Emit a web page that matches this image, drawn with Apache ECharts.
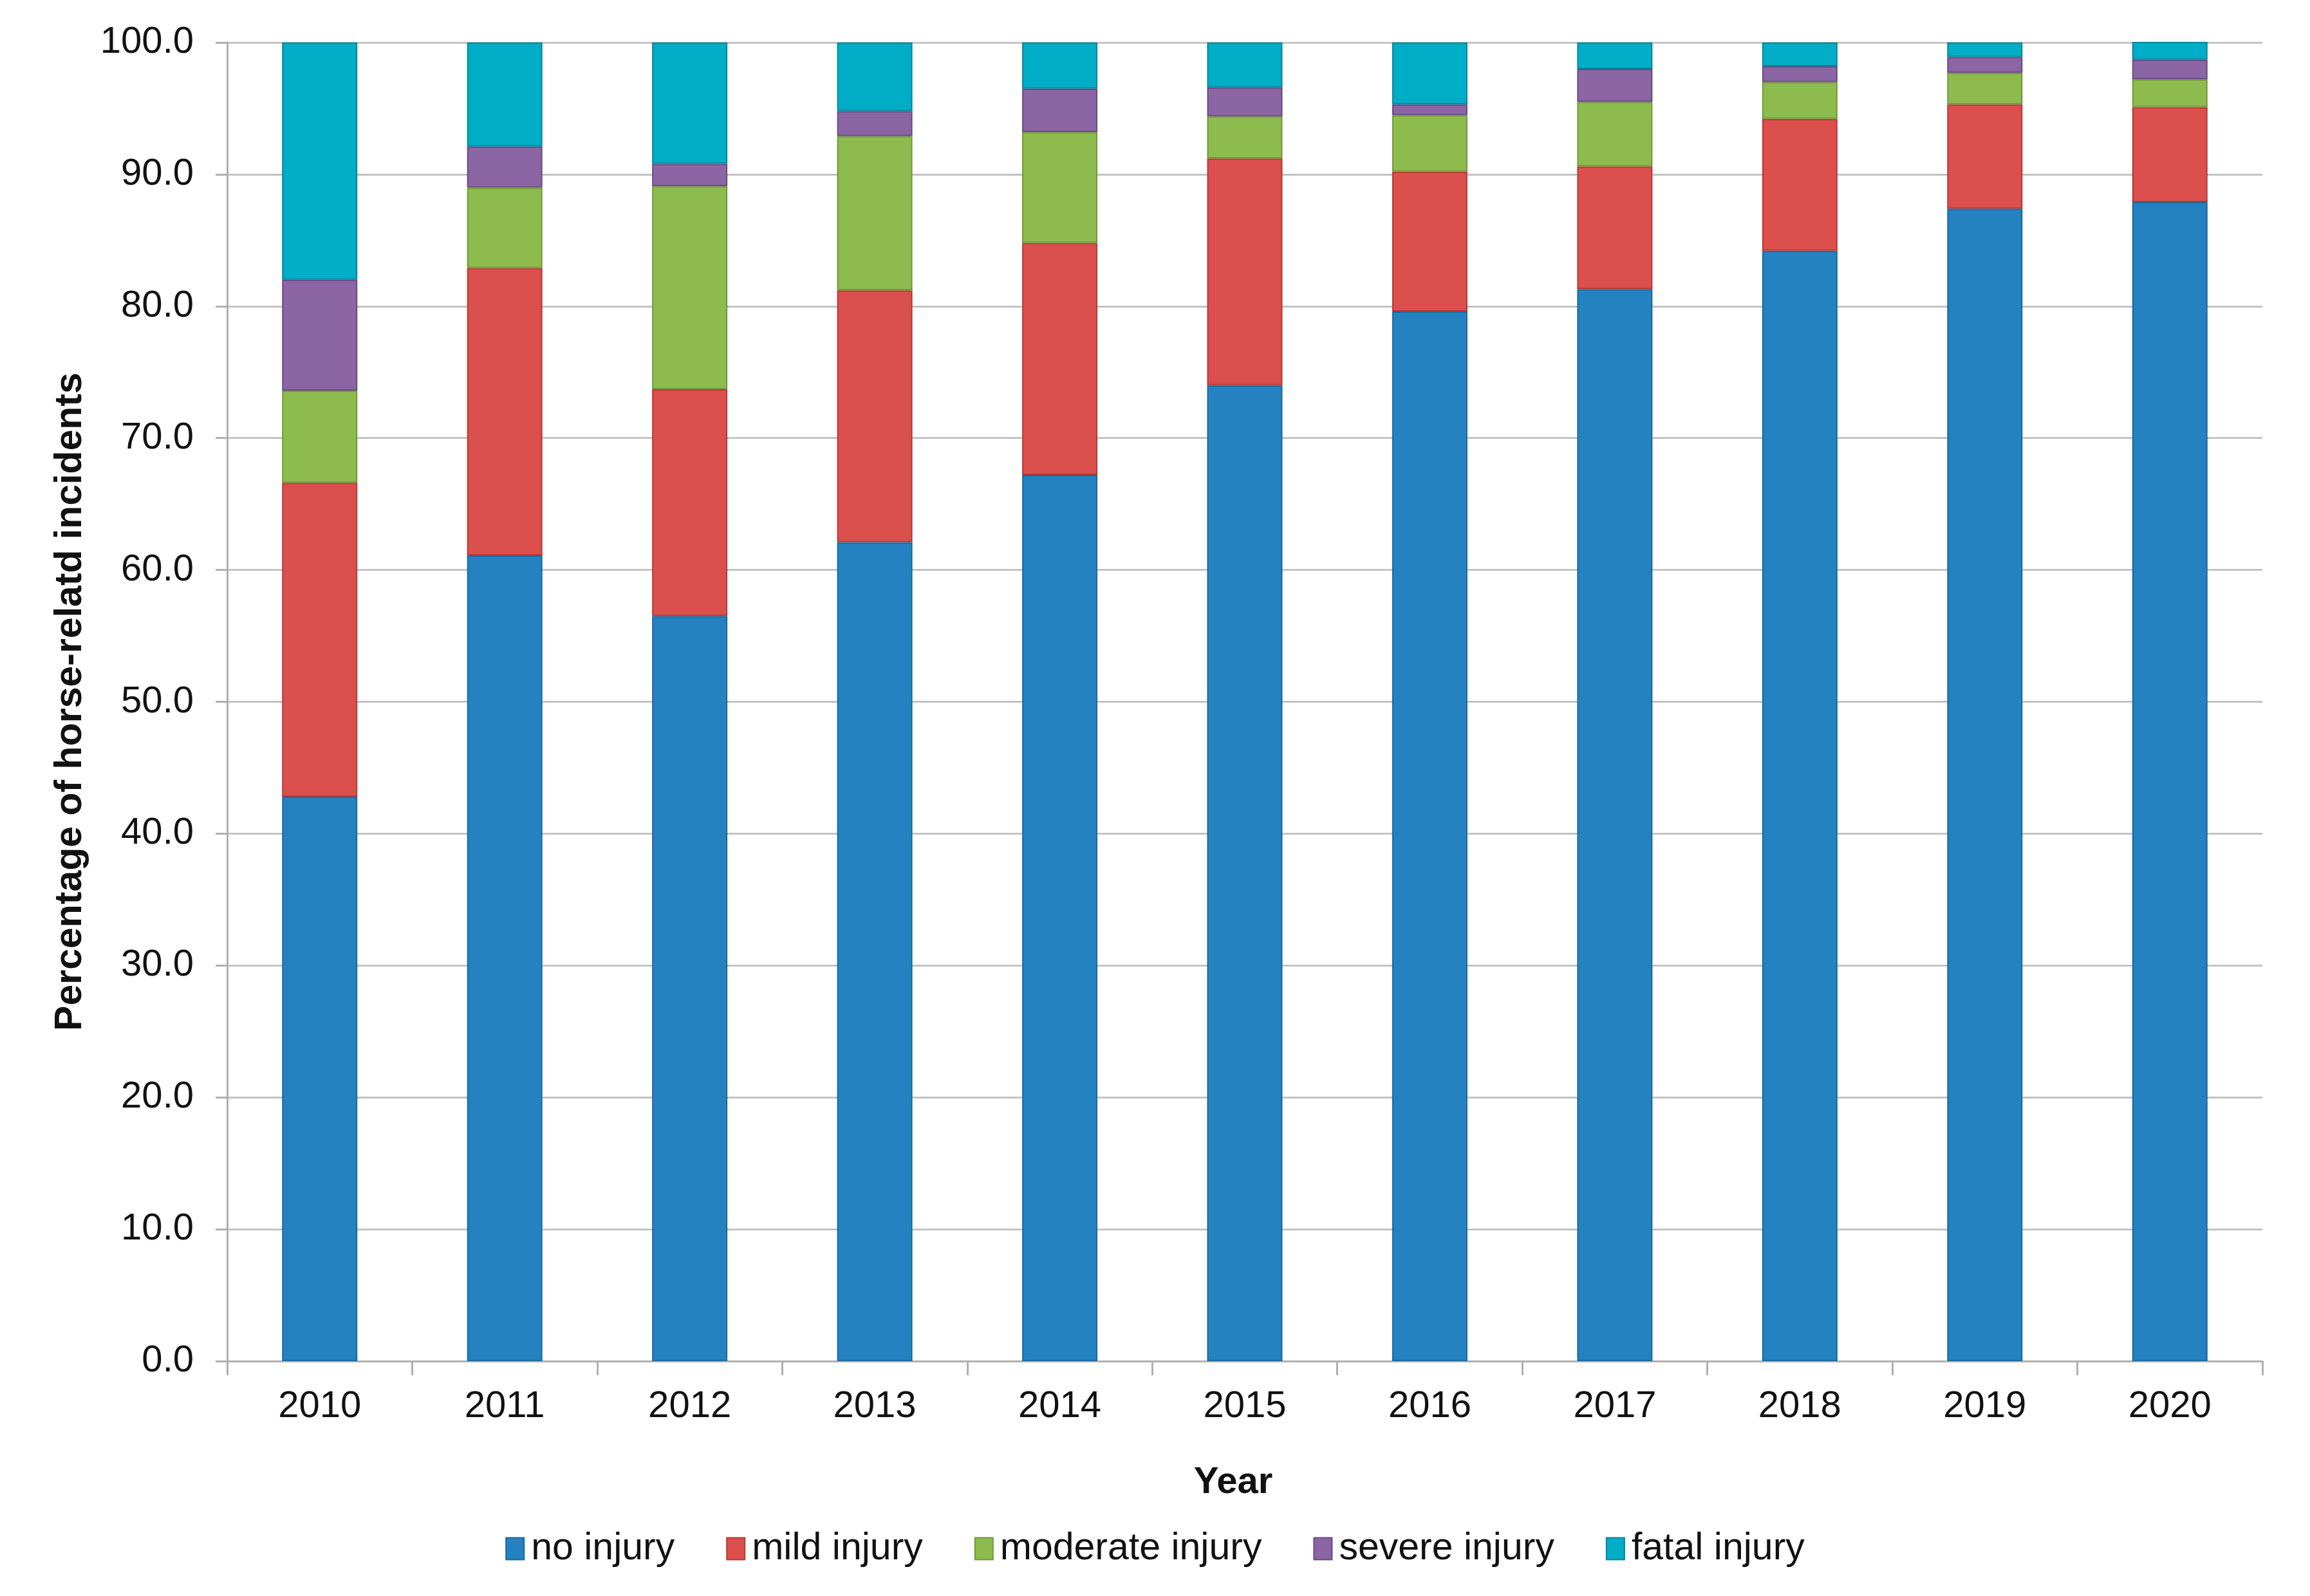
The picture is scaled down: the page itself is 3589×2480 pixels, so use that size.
<!DOCTYPE html>
<html>
<head>
<meta charset="utf-8">
<script src="https://cdn.jsdelivr.net/npm/echarts@6/dist/echarts.min.js"></script>
<style>
html,body{margin:0;padding:0;background:#fff;}
#chart{width:3589px;height:2480px;}
</style>
</head>
<body>
<div id="chart"></div>
<script>
const years = ['2010','2011','2012','2013','2014','2015','2016','2017','2018','2019','2020'];
const noInjury       = [42.8, 61.1, 56.5, 62.1, 67.2, 74.0, 79.6, 81.3, 84.2, 87.4, 87.9];
const mildInjury     = [23.8, 21.8, 17.2, 19.1, 17.6, 17.2, 10.6,  9.3, 10.0,  7.9,  7.2];
const moderateInjury = [ 7.0,  6.1, 15.4, 11.7,  8.4,  3.2,  4.3,  4.9,  2.8,  2.4,  2.1];
const severeInjury   = [ 8.4,  3.1,  1.7,  1.9,  3.3,  2.2,  0.8,  2.5,  1.2,  1.2,  1.5];
const fatalInjury    = [18.0,  7.9,  9.2,  5.2,  3.5,  3.4,  4.7,  2.0,  1.8,  1.1,  1.5];

const seriesDefs = [
  {name:'no injury', data:noInjury, color:'#2482C0', border:'#1A6A9E'},
  {name:'mild injury', data:mildInjury, color:'#DB4F4C', border:'#B53A38'},
  {name:'moderate injury', data:moderateInjury, color:'#8DBB4E', border:'#6E9A38'},
  {name:'severe injury', data:severeInjury, color:'#8B65A4', border:'#6A4A82'},
  {name:'fatal injury', data:fatalInjury, color:'#00ADC7', border:'#00879C'}
];

const FONT = "'Liberation Sans', Arial, sans-serif";
const chart = echarts.init(document.getElementById('chart'));
chart.setOption({
  backgroundColor:'#ffffff',
  animation:false,
  textStyle:{fontFamily:FONT},
  grid:{left:353, right:74, top:66, bottom:365, containLabel:false},
  legend:{
    data: seriesDefs.map(s=>s.name),
    left:'center', top:2372,
    itemWidth:28, itemHeight:34, itemGap:80,
    icon:'rect',
    textStyle:{fontFamily:FONT, fontSize:59, color:'#111', padding:[0,0,0,6]}
  },
  xAxis:{
    type:'category',
    data:years,
    boundaryGap:true,
    name:'Year',
    nameLocation:'middle',
    nameGap:160,
    nameTextStyle:{fontFamily:FONT, fontSize:58, fontWeight:'bold', color:'#111', padding:[0,36,0,0]},
    axisLine:{show:true, lineStyle:{color:'#b0b0b0', width:3}},
    axisTick:{show:true, length:22, alignWithLabel:false, lineStyle:{color:'#b0b0b0', width:3}},
    axisLabel:{fontFamily:FONT, fontSize:58, color:'#111', margin:42}
  },
  yAxis:{
    type:'value',
    min:0, max:100, interval:10,
    name:'Percentage of horse-relatd incidents',
    nameLocation:'middle',
    nameGap:214,
    nameTextStyle:{fontFamily:FONT, fontSize:59, fontWeight:'bold', color:'#111'},
    axisLine:{show:true, lineStyle:{color:'#b0b0b0', width:3}},
    axisTick:{show:true, length:18, lineStyle:{color:'#b0b0b0', width:3}},
    axisLabel:{fontFamily:FONT, fontSize:58, color:'#111', margin:52, formatter:v=>v.toFixed(1)},
    splitLine:{show:true, lineStyle:{color:'#c4c4c4', width:3}}
  },
  series: seriesDefs.map(s=>({
    name:s.name,
    type:'bar',
    stack:'total',
    barWidth:117,
    data:s.data,
    itemStyle:{color:s.color, borderColor:s.border, borderWidth:2}
  }))
});
</script>
</body>
</html>
